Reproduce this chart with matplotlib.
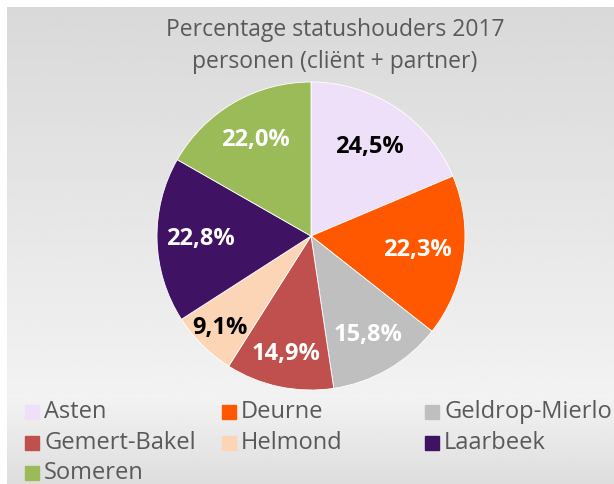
import numpy as np
import matplotlib
matplotlib.use("Agg")
import matplotlib.pyplot as plt
from matplotlib.patches import Rectangle

gemeenten = ['Asten', 'Deurne', 'Geldrop-Mierlo', 'Gemert-Bakel', 'Helmond', 'Laarbeek', 'Someren']
percentages = [24.5, 22.3, 15.8, 14.9, 9.1, 22.8, 22.0]
kleuren = ['#EFE0F9', '#FF5800', '#BFBFBF', '#C0504D', '#FBD5B5', '#3F1264', '#9BBB59']
labelkleur = ['black', 'white', 'white', 'white', 'black', 'white', 'white']
# radial position of each data label (fraction of radius)
labelafstand = [0.69, 0.70, 0.74, 0.78, 0.84, 0.72, 0.72]

W, H = 614, 484
fig = plt.figure(figsize=(W/100, H/100), dpi=100)
fig.patch.set_facecolor('white')

# gray gradient background of the chart area
bg = fig.add_axes([7/W, 0, 1 - 7/W, 1 - 7/H])
yy = np.linspace(0, 1, 200)
grad = np.interp(yy, [0, 0.82, 1], [0.85, 0.95, 0.87])
bg.imshow(np.tile(grad[:, None], (1, 2)), cmap='gray', vmin=0, vmax=1, aspect='auto',
          extent=[0, 1, 1, 0])
bg.set_axis_off()

# pie
cx, cy, r = 311, 236, 154
ax = fig.add_axes([(cx - r)/W, (H - cy - r)/H, 2*r/W, 2*r/H])
wedges, texts = ax.pie(percentages, colors=kleuren, startangle=90, counterclock=False,
                       labels=[('%.1f%%' % p).replace('.', ',') for p in percentages],
                       wedgeprops=dict(edgecolor='white', linewidth=0.6))
for w, t, c, d in zip(wedges, texts, labelkleur, labelafstand):
    hoek = np.deg2rad((w.theta1 + w.theta2) / 2)
    t.set_position((d * np.cos(hoek), d * np.sin(hoek)))
    t.set_color(c)
    t.set_fontsize(17)
    t.set_fontweight('bold')
    t.set_family('Open Sans')
    t.set_ha('center')
    t.set_va('center')
ax.set_xlim(-1, 1)
ax.set_ylim(-1, 1)
ax.set_aspect('equal')

# title
fig.text(335/W, 1 - 30/H, 'Percentage statushouders 2017', ha='center', va='center',
         fontsize=16.5, color='#595959', family='Open Sans')
fig.text(335/W, 1 - 62/H, 'personen (cliënt + partner)', ha='center', va='center',
         fontsize=16.5, color='#595959', family='Open Sans')

# legend, row-major in three columns
colx = [25, 222, 425]
rowy = [412, 443, 473]
for i, (naam, kl) in enumerate(zip(gemeenten, kleuren)):
    x = colx[i % 3]
    y = rowy[i // 3]
    fig.patches.append(Rectangle((x/W, (H - y - 7)/H), 14/W, 14/H, color=kl,
                                 transform=fig.transFigure, figure=fig))
    fig.text((x + 19)/W, 1 - y/H, naam, ha='left', va='center', fontsize=17,
             color='#595959', family='Open Sans')

fig.savefig('out.png', dpi=100)
